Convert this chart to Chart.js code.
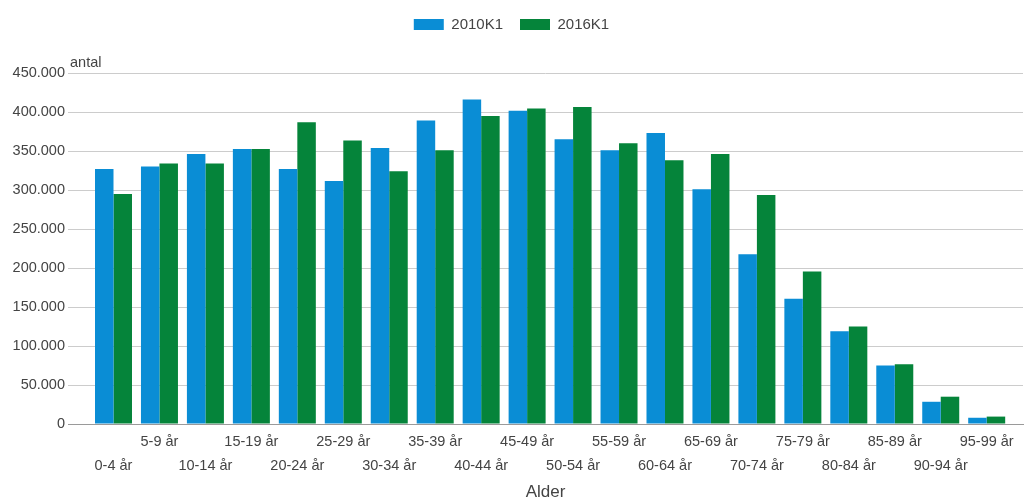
<!DOCTYPE html>
<html>
<head>
<meta charset="utf-8">
<script src="https://cdn.jsdelivr.net/npm/chart.js@4/dist/chart.umd.min.js"></script>
<style>
  html, body { margin: 0; padding: 0; background: #ffffff; }
  #wrap { width: 1028px; height: 501px; position: relative; }
</style>
</head>
<body>
<div id="wrap"><canvas id="c"></canvas></div>
<script>
// ---- data ----
const ageGroups = ['0-4 år', '5-9 år', '10-14 år', '15-19 år', '20-24 år', '25-29 år', '30-34 år',
  '35-39 år', '40-44 år', '45-49 år', '50-54 år', '55-59 år', '60-64 år', '65-69 år', '70-74 år',
  '75-79 år', '80-84 år', '85-89 år', '90-94 år', '95-99 år'];
const seriesNames = ['2010K1', '2016K1'];
const values2010 = [327000, 330000, 346000, 352500, 327000, 311500, 354000, 389000, 416000, 401500,
  365000, 351000, 373000, 301000, 217500, 160500, 119000, 75000, 28500, 8000];
const values2016 = [295000, 334000, 334000, 352500, 387000, 363500, 324000, 351000, 395000, 404500,
  406500, 360000, 338000, 346000, 293500, 195500, 125000, 76500, 35000, 9500];
const yTickMax = 450000;
const yTickStep = 50000;
const yTitle = 'antal';
const xTitle = 'Alder';

// ---- styles ----
const FONT = "'Liberation Sans', Arial, sans-serif";
const TEXT = '#444444';
const BLUE = '#0a8dd5';
const GREEN = '#05843a';

function fmt(v) {
  return String(Math.round(v)).replace(/\B(?=(\d{3})+(?!\d))/g, '.');
}

const legendSpacer = {
  id: 'legendSpacer',
  beforeLayout(chart) {
    const lg = chart.legend;
    if (lg && !lg._patched) {
      const orig = lg.fit;
      lg.fit = function () { orig.call(this); this.height += 31; };
      lg._patched = true;
    }
  }
};

const yTitlePlugin = {
  id: 'yTitlePlugin',
  afterDraw(chart) {
    const ctx = chart.ctx;
    const a = chart.chartArea;
    ctx.save();
    ctx.font = '14.5px ' + FONT;
    ctx.fillStyle = TEXT;
    ctx.textAlign = 'left';
    ctx.textBaseline = 'alphabetic';
    ctx.fillText(yTitle, a.left + 2, a.top - 6);
    ctx.restore();
  }
};

new Chart(document.getElementById('c'), {
  type: 'bar',
  data: {
    datasets: [
      { label: seriesNames[0], data: values2010.map((v, i) => ({ x: i, y: v })), backgroundColor: BLUE, borderWidth: 0 },
      { label: seriesNames[1], data: values2016.map((v, i) => ({ x: i, y: v })), backgroundColor: GREEN, borderWidth: 0 }
    ]
  },
  options: {
    responsive: true,
    maintainAspectRatio: false,
    animation: false,
    layout: { padding: { left: 0, right: 5, top: 0, bottom: 0 } },
    datasets: { bar: { categoryPercentage: 0.805, barPercentage: 1.0 } },
    plugins: {
      legend: {
        position: 'top',
        labels: {
          boxWidth: 30, boxHeight: 11, padding: 17,
          color: TEXT, font: { family: FONT, size: 15 }
        }
      },
      tooltip: { enabled: false }
    },
    scales: {
      x: {
        type: 'linear',
        bounds: 'data',
        offset: false,
        min: -0.99,
        max: 19.79,
        grid: { display: false, drawTicks: false, offset: false },
        border: { display: true, color: '#9a9a9a', width: 1 },
        afterBuildTicks(scale) { scale.ticks = ageGroups.map((_, i) => ({ value: i })); },
        afterFit(scale) { scale.height = 77; },
        ticks: {
          stepSize: 1,
          autoSkip: false, maxRotation: 0, minRotation: 0, padding: 6,
          color: TEXT, font: { family: FONT, size: 14.5, lineHeight: '24px' },
          callback(value) {
            const i = Math.round(value);
            const lab = ageGroups[i] || '';
            return i % 2 === 1 ? [lab, ''] : ['', lab];
          }
        },
        title: {
          display: true, text: xTitle, color: TEXT,
          font: { family: FONT, size: 17, lineHeight: 1 },
          padding: { top: 0, bottom: 0 }
        }
      },
      y: {
        min: 0,
        max: yTickMax,
        grid: { color: (c) => c.tick && c.tick.value === 0 ? '#9a9a9a' : '#cccccc', drawTicks: false, lineWidth: 1 },
        border: { display: false },
        afterFit(scale) { scale.width = 68; },
        ticks: {
          stepSize: yTickStep, padding: 3, color: TEXT,
          font: { family: FONT, size: 14.5 },
          callback: (v) => fmt(v)
        }
      }
    }
  },
  plugins: [legendSpacer, yTitlePlugin]
});
</script>
</body>
</html>
